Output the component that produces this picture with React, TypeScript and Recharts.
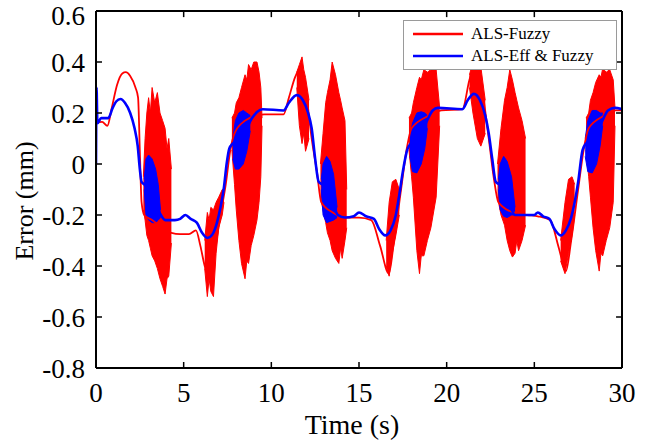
import { ComposedChart, Line, Area, XAxis, YAxis, Legend, ReferenceLine } from 'recharts'

const FONT = '"Liberation Serif", "Times New Roman", serif'

const timeTicks = [0, 5, 10, 15, 20, 25, 30]
const errorTicks = [-0.8, -0.6, -0.4, -0.2, 0, 0.2, 0.4, 0.6]
const seriesNames = ['ALS-Fuzzy', 'ALS-Eff & Fuzzy']

// ALS-Fuzzy, underlying error curve: [time (s), error (mm)]
const fuzzyCurve: [number, number][] = [
  [0, 0.16], [0.35, 0.165], [0.65, 0.15], [0.9, 0.22], [1.2, 0.31], [1.5, 0.355], [1.7, 0.36],
  [1.95, 0.345], [2.25, 0.3], [2.4, 0.26], [2.5, 0.05], [2.6, -0.15], [2.75, -0.2], [3.2, -0.22],
  [3.8, -0.25], [4.3, -0.27], [4.8, -0.275], [5.3, -0.275], [5.7, -0.26], [5.95, -0.32], [6.2, -0.4],
  [6.5, -0.45], [6.8, -0.33], [7.1, -0.2], [7.4, -0.08], [7.65, 0.05], [7.9, 0.12], [8.5, 0.17],
  [9.2, 0.19], [9.6, 0.195], [10.7, 0.195], [11.0, 0.26], [11.35, 0.34], [11.7, 0.38], [12.0, 0.27],
  [12.3, 0.1], [12.6, -0.03], [12.85, -0.15], [13.5, -0.19], [14.3, -0.21], [15.0, -0.21],
  [15.7, -0.22], [16.2, -0.32], [16.7, -0.43], [17.0, -0.3], [17.4, -0.1], [17.7, 0.05], [18.0, 0.14],
  [19.0, 0.19], [19.7, 0.21], [20.9, 0.215], [21.3, 0.33], [21.6, 0.39], [22.0, 0.3], [22.4, 0.1],
  [22.7, -0.06], [22.95, -0.15], [23.8, -0.19], [24.6, -0.2], [25.2, -0.205], [25.9, -0.22],
  [26.4, -0.33], [26.8, -0.42], [27.1, -0.3], [27.5, -0.1], [27.8, 0.05], [28.1, 0.14], [29.0, 0.19],
  [29.6, 0.21], [30, 0.21],
]

// ALS-Fuzzy chatter bands: [time (s), low (mm), high (mm)]
const fuzzyChatter1: [number, number, number][] = [
  [2.7, -0.18, -0.05], [2.8, -0.22, 0.1], [2.9, -0.28, 0.2], [3.0, -0.3, 0.26], [3.1, -0.33, 0.2],
  [3.2, -0.36, 0.3], [3.35, -0.38, 0.24], [3.5, -0.41, 0.28], [3.65, -0.45, 0.2], [3.8, -0.48, 0.17],
  [3.94, -0.51, 0.14], [4.05, -0.45, 0.06], [4.15, -0.44, 0.1], [4.3, -0.31, -0.02],
]
const fuzzyChatter2: [number, number, number][] = [
  [6.2, -0.41, -0.3], [6.35, -0.52, -0.19], [6.45, -0.45, -0.22], [6.55, -0.5, -0.17], [6.7, -0.52, -0.18],
  [6.85, -0.35, -0.15], [7.0, -0.25, -0.13], [7.2, -0.2, -0.1], [7.3, -0.15, -0.1],
]
const fuzzyChatter3: [number, number, number][] = [
  [7.75, 0.055, 0.18], [7.9, -0.08, 0.2], [8.0, -0.18, 0.24], [8.15, -0.3, 0.26], [8.3, -0.39, 0.3],
  [8.5, -0.45, 0.35], [8.6, -0.38, 0.33], [8.7, -0.39, 0.39], [8.85, -0.32, 0.37], [9.0, -0.28, 0.4],
  [9.18, -0.22, 0.4], [9.3, -0.15, 0.36], [9.4, -0.05, 0.3], [9.47, 0.15, 0.18],
]
const fuzzyChatter4: [number, number, number][] = [
  [11.45, 0.3, 0.36], [11.6, 0.15, 0.39], [11.75, 0.08, 0.42], [11.85, 0.12, 0.37], [11.95, 0.05, 0.34],
  [12.15, 0.1, 0.25],
]
const fuzzyChatter5: [number, number, number][] = [
  [12.8, -0.13, 0.0], [12.95, -0.18, 0.12], [13.1, -0.23, 0.24], [13.2, -0.27, 0.28], [13.35, -0.3, 0.33],
  [13.47, -0.34, 0.4], [13.66, -0.37, 0.35], [13.85, -0.39, 0.28], [13.95, -0.33, 0.25],
  [14.04, -0.37, 0.22], [14.2, -0.3, 0.17], [14.3, -0.25, -0.1],
]
const fuzzyChatter6: [number, number, number][] = [
  [16.55, -0.4, -0.3], [16.72, -0.44, -0.15], [16.9, -0.35, -0.07], [17.1, -0.28, -0.06], [17.3, -0.2, -0.1],
]
const fuzzyChatter7: [number, number, number][] = [
  [17.85, 0.055, 0.18], [18.0, -0.05, 0.2], [18.1, -0.13, 0.24], [18.3, -0.34, 0.3], [18.45, -0.43, 0.34],
  [18.55, -0.36, 0.33], [18.7, -0.36, 0.37], [18.9, -0.3, 0.36], [19.1, -0.25, 0.37], [19.4, -0.13, 0.37],
  [19.6, 0.15, 0.22],
]
const fuzzyChatter8: [number, number, number][] = [
  [21.3, 0.3, 0.35], [21.5, 0.2, 0.4], [21.75, 0.1, 0.41], [21.95, 0.07, 0.38], [22.2, 0.12, 0.25],
]
const fuzzyChatter9: [number, number, number][] = [
  [22.9, -0.13, 0.0], [23.1, -0.2, 0.14], [23.3, -0.24, 0.25], [23.45, -0.3, 0.3], [23.6, -0.34, 0.37],
  [23.75, -0.365, 0.33], [23.9, -0.35, 0.28], [24.0, -0.3, 0.25], [24.1, -0.34, 0.22], [24.3, -0.3, 0.17],
  [24.5, -0.24, 0.1],
]
const fuzzyChatter10: [number, number, number][] = [
  [26.5, -0.38, -0.3], [26.75, -0.43, -0.15], [26.95, -0.35, -0.06], [27.15, -0.28, -0.05], [27.3, -0.2, -0.08],
]
const fuzzyChatter11: [number, number, number][] = [
  [27.95, 0.055, 0.18], [28.1, -0.05, 0.2], [28.2, -0.13, 0.25], [28.35, -0.25, 0.28], [28.5, -0.34, 0.32],
  [28.7, -0.42, 0.35], [28.8, -0.35, 0.34], [28.9, -0.36, 0.375], [29.1, -0.3, 0.36], [29.3, -0.25, 0.37],
  [29.5, -0.15, 0.33], [29.6, 0.15, 0.22],
]

// ALS-Eff & Fuzzy, underlying error curve: [time (s), error (mm)]
const effCurve: [number, number][] = [
  [0, 0.0], [0.03, 0.3], [0.08, 0.16], [0.3, 0.18], [0.7, 0.18], [0.95, 0.22], [1.15, 0.245],
  [1.4, 0.255], [1.65, 0.24], [1.95, 0.2], [2.2, 0.14], [2.38, 0.07], [2.5, -0.02], [2.6, -0.07],
  [2.75, -0.08], [3.2, -0.12], [3.7, -0.2], [3.95, -0.22], [4.5, -0.22], [4.8, -0.215], [5.1, -0.2],
  [5.4, -0.215], [5.75, -0.23], [6.05, -0.27], [6.35, -0.29], [6.65, -0.275], [6.9, -0.23], [7.1, -0.17],
  [7.3, -0.09], [7.45, 0.0], [7.6, 0.06], [7.8, 0.08], [8.3, 0.1], [8.9, 0.18], [9.2, 0.205], [9.5, 0.215],
  [10.7, 0.21], [11.0, 0.24], [11.45, 0.27], [11.8, 0.25], [12.1, 0.2], [12.3, 0.14], [12.5, 0.02],
  [12.7, -0.07], [12.9, -0.08], [13.3, -0.12], [13.8, -0.2], [14.2, -0.21], [14.7, -0.205], [15.0, -0.19],
  [15.4, -0.205], [15.85, -0.215], [16.15, -0.255], [16.5, -0.28], [16.8, -0.26], [17.1, -0.2],
  [17.3, -0.12], [17.5, -0.03], [17.75, 0.055], [17.95, 0.08], [18.4, 0.1], [18.95, 0.18], [19.2, 0.21],
  [19.5, 0.22], [20.9, 0.215], [21.2, 0.25], [21.55, 0.275], [21.9, 0.25], [22.2, 0.19], [22.4, 0.12],
  [22.6, 0.02], [22.8, -0.07], [23.0, -0.08], [23.4, -0.12], [23.9, -0.2], [24.3, -0.2], [25.0, -0.2],
  [25.2, -0.19], [25.5, -0.205], [25.85, -0.215], [26.15, -0.255], [26.5, -0.28], [26.8, -0.26],
  [27.1, -0.21], [27.3, -0.15], [27.5, -0.07], [27.75, 0.055], [27.95, 0.08], [28.4, 0.1], [28.95, 0.18],
  [29.2, 0.21], [29.6, 0.22], [30, 0.215],
]

// ALS-Eff & Fuzzy chatter bands: [time (s), low (mm), high (mm)]
const effChatter1: [number, number, number][] = [
  [2.75, -0.1, -0.06], [2.85, -0.2, 0.02], [3.0, -0.22, 0.035], [3.2, -0.23, 0.02], [3.4, -0.23, -0.02],
  [3.55, -0.22, -0.08], [3.68, -0.21, -0.18],
]
const effChatter2: [number, number, number][] = [
  [7.8, 0.02, 0.1], [7.95, -0.02, 0.17], [8.15, -0.02, 0.2], [8.4, 0.0, 0.21], [8.6, 0.05, 0.2], [8.8, 0.13, 0.19],
]
const effChatter3: [number, number, number][] = [
  [12.85, -0.1, -0.06], [12.95, -0.2, 0.0], [13.15, -0.23, 0.03], [13.35, -0.225, 0.01], [13.55, -0.22, -0.04],
  [13.75, -0.21, -0.17],
]
const effChatter4: [number, number, number][] = [
  [17.9, 0.03, 0.1], [18.05, -0.03, 0.16], [18.3, -0.035, 0.2], [18.55, 0.0, 0.205], [18.75, 0.06, 0.2],
  [18.9, 0.14, 0.19],
]
const effChatter5: [number, number, number][] = [
  [22.95, -0.1, -0.06], [23.05, -0.18, 0.0], [23.25, -0.205, 0.03], [23.45, -0.21, 0.01], [23.7, -0.2, -0.05],
  [23.9, -0.2, -0.17],
]
const effChatter6: [number, number, number][] = [
  [27.9, 0.03, 0.1], [28.05, -0.03, 0.17], [28.3, -0.035, 0.21], [28.55, 0.0, 0.21], [28.75, 0.07, 0.2],
  [28.9, 0.15, 0.2],
]

const fuzzyChatter = [
  fuzzyChatter1, fuzzyChatter2, fuzzyChatter3, fuzzyChatter4, fuzzyChatter5, fuzzyChatter6,
  fuzzyChatter7, fuzzyChatter8, fuzzyChatter9, fuzzyChatter10, fuzzyChatter11,
]
const effChatter = [effChatter1, effChatter2, effChatter3, effChatter4, effChatter5, effChatter6]

const RED = '#ff0000'
const BLUE = '#0000ff'
const T_MAX = 30
const E_MAX = 0.6
// inward tick length of the top / right frame, in data units (about 6px)
const TICK_T = 0.34
const TICK_E = 0.024

const toCurve = (pts: [number, number][]) => pts.map(([t, v]) => ({ t, v }))
const toBand = (pts: [number, number, number][]) => pts.map(([t, lo, hi]) => ({ t, band: [lo, hi] }))

const tickStyle = { fontSize: 27, fill: '#000', fontFamily: FONT }
const axisLine = { stroke: '#000', strokeWidth: 2 }
const tickLine = { stroke: '#000', strokeWidth: 1.5 }

function LegendBox({ payload }: any) {
  const items = (payload || [])
    .filter((p: any) => seriesNames.includes(p.value))
    .sort((a: any, b: any) => seriesNames.indexOf(a.value) - seriesNames.indexOf(b.value))
  return (
    <div
      style={{
        width: 214,
        height: 50,
        boxSizing: 'border-box',
        border: '1px solid #9a9a9a',
        background: '#fff',
        padding: '2px 0 0 9px',
        fontFamily: FONT,
        fontSize: 17,
        color: '#000',
      }}
    >
      {items.map((p: any) => (
        <div key={p.value} style={{ display: 'flex', alignItems: 'center', height: 22 }}>
          <svg width={50} height={4} style={{ display: 'block' }}>
            <line x1={0} x2={50} y1={2} y2={2} stroke={p.color} strokeWidth={2.5} />
          </svg>
          <span style={{ marginLeft: 8, lineHeight: '22px' }}>{p.value}</span>
        </div>
      ))}
    </div>
  )
}

function YTitle() {
  return (
    <text x={33} y={201} transform='rotate(-90 33 201)' textAnchor='middle' fontFamily={FONT} fontSize={26} fill='#000'>
      Error (mm)
    </text>
  )
}

function XTitle() {
  return (
    <text x={352} y={434} textAnchor='middle' fontFamily={FONT} fontSize={28} fill='#000'>
      Time (s)
    </text>
  )
}

export default function App() {
  return (
    <div style={{ position: 'absolute', left: 0, top: 0, width: 656, height: 446, background: '#fff' }}>
      <ComposedChart width={656} height={446} margin={{ top: 11, right: 34, left: 0, bottom: 0 }}>
        <XAxis
          dataKey='t'
          type='number'
          domain={[0, T_MAX]}
          ticks={timeTicks}
          allowDataOverflow
          height={78}
          axisLine={axisLine}
          tickLine={tickLine}
          tickSize={-6}
          tickMargin={21}
          tick={tickStyle}
          label={{ content: () => <XTitle /> }}
        />
        <YAxis
          type='number'
          domain={[-0.8, E_MAX]}
          ticks={errorTicks}
          allowDataOverflow
          width={96}
          axisLine={axisLine}
          tickLine={tickLine}
          tickSize={-6}
          tickMargin={17}
          tick={tickStyle}
          tickFormatter={(v: number) => (v === 0 ? '0' : v.toFixed(1))}
          label={{ content: () => <YTitle /> }}
        />
        <Legend
          layout='horizontal'
          verticalAlign='middle'
          align='center'
          content={<LegendBox />}
          wrapperStyle={{ left: 403, top: 20, width: 214, height: 50 }}
        />
        <Line
          data={toCurve(fuzzyCurve)}
          dataKey='v'
          name='ALS-Fuzzy'
          type='monotone'
          stroke={RED}
          strokeWidth={1.8}
          dot={false}
          activeDot={false}
          isAnimationActive={false}
        />
        {fuzzyChatter.map((b, i) => (
          <Area
            key={`fc${i}`}
            data={toBand(b)}
            dataKey='band'
            type='linear'
            stroke={RED}
            strokeWidth={1}
            fill={RED}
            fillOpacity={1}
            legendType='none'
            dot={false}
            activeDot={false}
            isAnimationActive={false}
          />
        ))}
        <Line
          data={toCurve(effCurve)}
          dataKey='v'
          name='ALS-Eff & Fuzzy'
          type='monotone'
          stroke={BLUE}
          strokeWidth={2.6}
          dot={false}
          activeDot={false}
          isAnimationActive={false}
        />
        {effChatter.map((b, i) => (
          <Area
            key={`ec${i}`}
            data={toBand(b)}
            dataKey='band'
            type='linear'
            stroke={BLUE}
            strokeWidth={1}
            fill={BLUE}
            fillOpacity={1}
            legendType='none'
            dot={false}
            activeDot={false}
            isAnimationActive={false}
          />
        ))}
        {/* box frame: top and right spines with inward ticks */}
        <ReferenceLine y={E_MAX} stroke='#000' strokeWidth={2} ifOverflow='visible' />
        <ReferenceLine x={T_MAX} stroke='#000' strokeWidth={2} ifOverflow='visible' />
        {timeTicks.slice(1, -1).map((t) => (
          <ReferenceLine
            key={`tt${t}`}
            segment={[{ x: t, y: E_MAX }, { x: t, y: E_MAX - TICK_E }]}
            stroke='#000'
            strokeWidth={1.5}
            ifOverflow='visible'
          />
        ))}
        {errorTicks.slice(1, -1).map((e) => (
          <ReferenceLine
            key={`rt${e}`}
            segment={[{ x: T_MAX, y: e }, { x: T_MAX - TICK_T, y: e }]}
            stroke='#000'
            strokeWidth={1.5}
            ifOverflow='visible'
          />
        ))}
      </ComposedChart>
    </div>
  )
}
